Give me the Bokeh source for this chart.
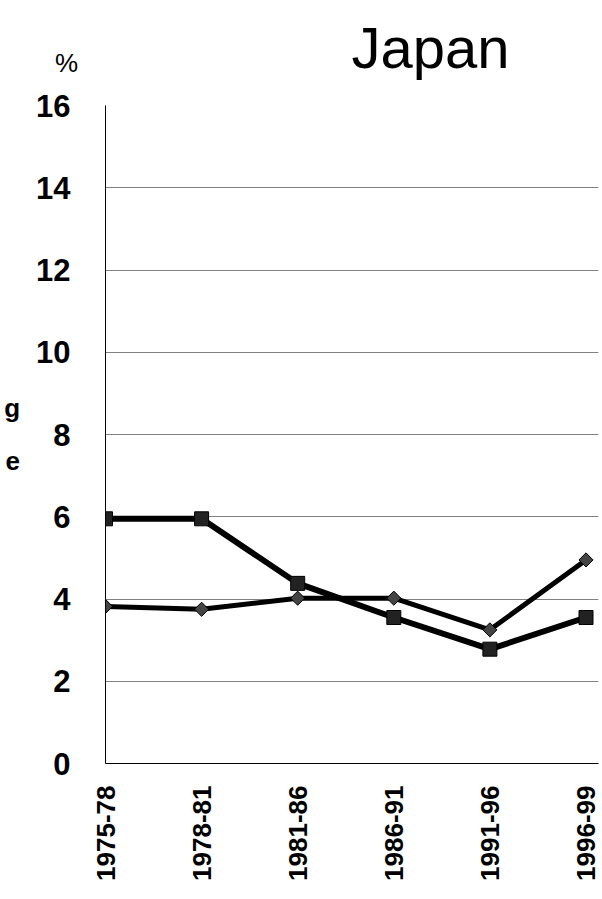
import math
from bokeh.plotting import figure
from bokeh.layouts import column
from bokeh.models import Range1d, FixedTicker, Label
from bokeh.embed import file_html
from bokeh.resources import INLINE

periods = ["1975-78", "1978-81", "1981-86", "1986-91", "1991-96", "1996-99"]
series_square = [5.95, 5.95, 4.38, 3.55, 2.78, 3.55]
series_diamond = [3.82, 3.75, 4.02, 4.02, 3.25, 4.95]
y_ticks = [0, 2, 4, 6, 8, 10, 12, 14, 16]

xs = list(range(len(periods)))
W = 602
TOP_H = 85
MAIN_H = 899 - TOP_H

# ---- header strip (title and unit) ----
top = figure(width=W, height=TOP_H, output_backend="svg", toolbar_location=None,
             x_range=Range1d(0, W), y_range=Range1d(TOP_H, 0),
             x_axis_type=None, y_axis_type=None, min_border=0)
top.outline_line_color = None
top.border_fill_color = "white"
top.add_layout(Label(x=430, y=47, text="Japan", text_align="center",
                     text_baseline="alphabetic", text_font="Liberation Sans",
                     text_font_size="58px", text_color="black"))
top.add_layout(Label(x=66, y=62, text="%", text_align="center",
                     text_baseline="middle", text_font="Liberation Sans",
                     text_font_size="26px", text_color="black"))

# ---- main chart ----
p = figure(width=W, height=MAIN_H, output_backend="svg", toolbar_location=None,
           x_range=Range1d(0, 5.13), y_range=Range1d(0, 16),
           min_border_left=105, min_border_right=4,
           min_border_top=105 - TOP_H, min_border_bottom=136)
p.outline_line_color = None
p.background_fill_color = "white"
p.border_fill_color = "white"

for fig in (top, p):
    try:
        fig.frame_align = False
    except Exception:
        pass

p.xgrid.visible = False
p.ygrid.ticker = FixedTicker(ticks=y_ticks)
p.ygrid.grid_line_color = "#808080"
p.ygrid.grid_line_width = 1

p.yaxis.ticker = FixedTicker(ticks=y_ticks)
p.yaxis.axis_line_color = "black"
p.yaxis.major_tick_line_color = None
p.yaxis.minor_tick_line_color = None
p.yaxis.major_tick_out = 0
p.yaxis.major_label_standoff = 35
p.yaxis.major_label_text_font = "Liberation Sans"
p.yaxis.major_label_text_font_style = "bold"
p.yaxis.major_label_text_font_size = "31px"
p.yaxis.major_label_text_color = "black"
p.yaxis.axis_label = "g\ne"
p.yaxis.axis_label_orientation = "horizontal"
p.yaxis.axis_label_standoff = 13
p.yaxis.axis_label_text_font = "Liberation Sans"
p.yaxis.axis_label_text_font_style = "bold"
p.yaxis.axis_label_text_font_size = "26px"
p.yaxis.axis_label_text_line_height = 1.75
p.yaxis.axis_label_text_align = "right"
p.yaxis.axis_label_text_color = "black"

p.xaxis.ticker = FixedTicker(ticks=xs)
p.xaxis.major_label_overrides = {i: s for i, s in enumerate(periods)}
p.xaxis.major_label_orientation = math.pi / 2
p.xaxis.axis_line_color = "black"
p.xaxis.major_tick_line_color = None
p.xaxis.minor_tick_line_color = None
p.xaxis.major_tick_out = 0
p.xaxis.major_label_standoff = 22
p.xaxis.major_label_text_font = "Liberation Sans"
p.xaxis.major_label_text_font_style = "bold"
p.xaxis.major_label_text_font_size = "26px"
p.xaxis.major_label_text_color = "black"

p.line(xs, series_square, line_color="black", line_width=6)
p.scatter(xs, series_square, marker="square", size=14,
          fill_color="#222222", line_color="black", line_width=1)
p.line(xs, series_diamond, line_color="black", line_width=5)
p.scatter(xs, series_diamond, marker="square", angle=math.pi / 4, size=10,
          fill_color="#444444", line_color="black", line_width=1)

layout = column(top, p, spacing=0)
open("out.html", "w").write(file_html(layout, INLINE))
